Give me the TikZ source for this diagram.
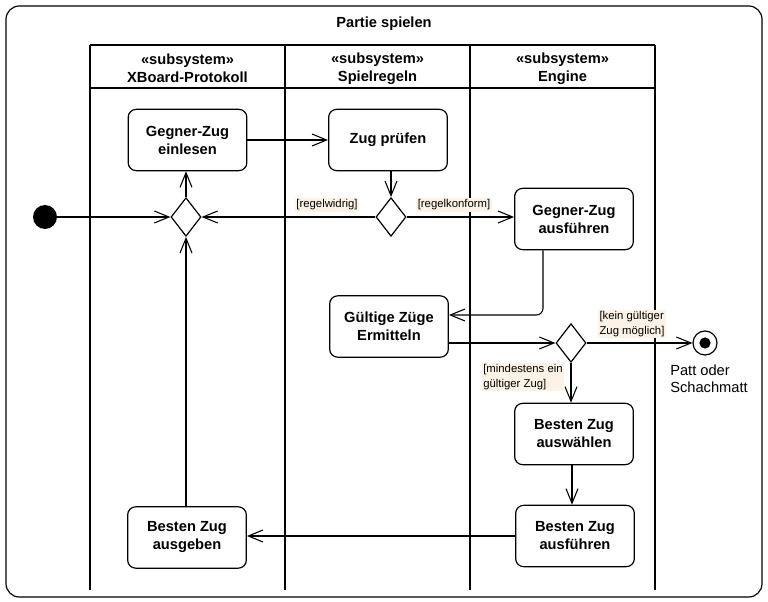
\documentclass[tikz,border=0pt]{standalone}
\usepackage{fontspec}
\setmainfont{Liberation Sans}
\usetikzlibrary{arrows.meta,shapes.geometric}
\definecolor{guardbg}{RGB}{252,243,230}
\tikzset{
  act/.style={draw, line width=0.9pt, rounded corners=6pt, minimum width=89pt, minimum height=46pt,
    inner sep=1pt, align=center, font=\fontsize{11}{13.5}\selectfont\bfseries},
  dec/.style={draw, line width=0.9pt, diamond, minimum width=22.5pt, minimum height=29pt, inner sep=0pt},
  arr/.style={draw, line width=0.8pt, -{Straight Barb[length=11pt,width=9pt,line width=0.8pt]}},
  guard/.style={fill=guardbg, inner sep=1pt, align=left, font=\fontsize{8.5}{11}\selectfont},
  lane/.style={line width=0.9pt},
  hdr/.style={align=center, font=\fontsize{11}{13.5}\selectfont\bfseries}
}
\begin{document}
\begin{tikzpicture}[x=0.75pt,y=-0.75pt]
\useasboundingbox (0,0) rectangle (768,602);
% frame
\draw[line width=0.9pt, rounded corners=10pt] (6,6) rectangle (762,597);
\node[font=\fontsize{11}{13.5}\selectfont\bfseries] (title) at (384,24) {Partie spielen};
% swimlanes
\draw[lane] (90,45) -- (655,45);
\draw[lane] (90,88) -- (655,88);
\draw[lane] (90,45) -- (90,590);
\draw[lane] (285,45) -- (285,590);
\draw[lane] (470,45) -- (470,590);
\draw[lane] (655,45) -- (655,590);
\node[hdr] (h1) at (187.5,68.5) {«subsystem»\\XBoard-Protokoll};
\node[hdr] (h2) at (377.5,68.5) {«subsystem»\\Spielregeln};
\node[hdr] (h3) at (562.5,68.5) {«subsystem»\\Engine};
% nodes
\node[circle, fill, minimum size=18pt, inner sep=0pt] (start) at (45,217) {};
\node[dec] (d1) at (186,217) {};
\node[act] (einlesen) at (187.5,140) {Gegner-Zug\\einlesen};
\node[act] (pruefen) at (388,140) {Zug prüfen};
\node[dec] (d2) at (391,217) {};
\node[act] (gza) at (574,219) {Gegner-Zug\\ausführen};
\node[act] (gueltig) at (389,326.5) {Gültige Züge\\Ermitteln};
\node[dec] (d3) at (571,343) {};
\node[circle, draw, line width=0.9pt, minimum size=18pt, inner sep=0pt] (final) at (705,343) {};
\fill (final.center) circle[radius=4.2pt];
\node[align=left, font=\fontsize{11}{13}\selectfont] (pattlbl) at (709,379) {Patt oder\\Schachmatt};
\node[act] (waehlen) at (574,434) {Besten Zug\\auswählen};
\node[act] (bfa) at (575,536) {Besten Zug\\ausführen};
\node[act] (ausgeben) at (187,537.5) {Besten Zug\\ausgeben};
% guards
\node[guard] (g1) at (327,205) {[regelwidrig]};
\node[guard] (g2) at (454,205) {[regelkonform]};
\node[guard] (g3) at (632,324) {[kein gültiger\\Zug möglich]};
\node[guard] (g4) at (523,377) {[mindestens ein\\gültiger Zug]};
% edges
\draw[arr] (start.east) -- (d1.west);
\draw[arr] (d1.north) -- (d1.north |- einlesen.south);
\draw[arr] (einlesen.east) -- (pruefen.west);
\draw[arr] (pruefen.south -| d2.north) -- (d2.north);
\draw[arr] (d2.west) -- (d1.east);
\draw[arr] (d2.east) -- (d2.east -| gza.west);
\draw[arr, rounded corners=5pt] (gza.south -| 543,0) -- (543,315) -- (gueltig.east |- 0,315);
\draw[arr] (gueltig.east |- d3.west) -- (d3.west);
\draw[arr] (d3.east) -- (final.west);
\draw[arr] (d3.south) -- (d3.south |- waehlen.north);
\draw[arr] (waehlen.south -| 572,0) -- (bfa.north -| 572,0);
\draw[arr] (bfa.west |- 0,536) -- (ausgeben.east |- 0,536);
\draw[arr] (ausgeben.north -| d1.south) -- (d1.south);
\end{tikzpicture}
\end{document}
